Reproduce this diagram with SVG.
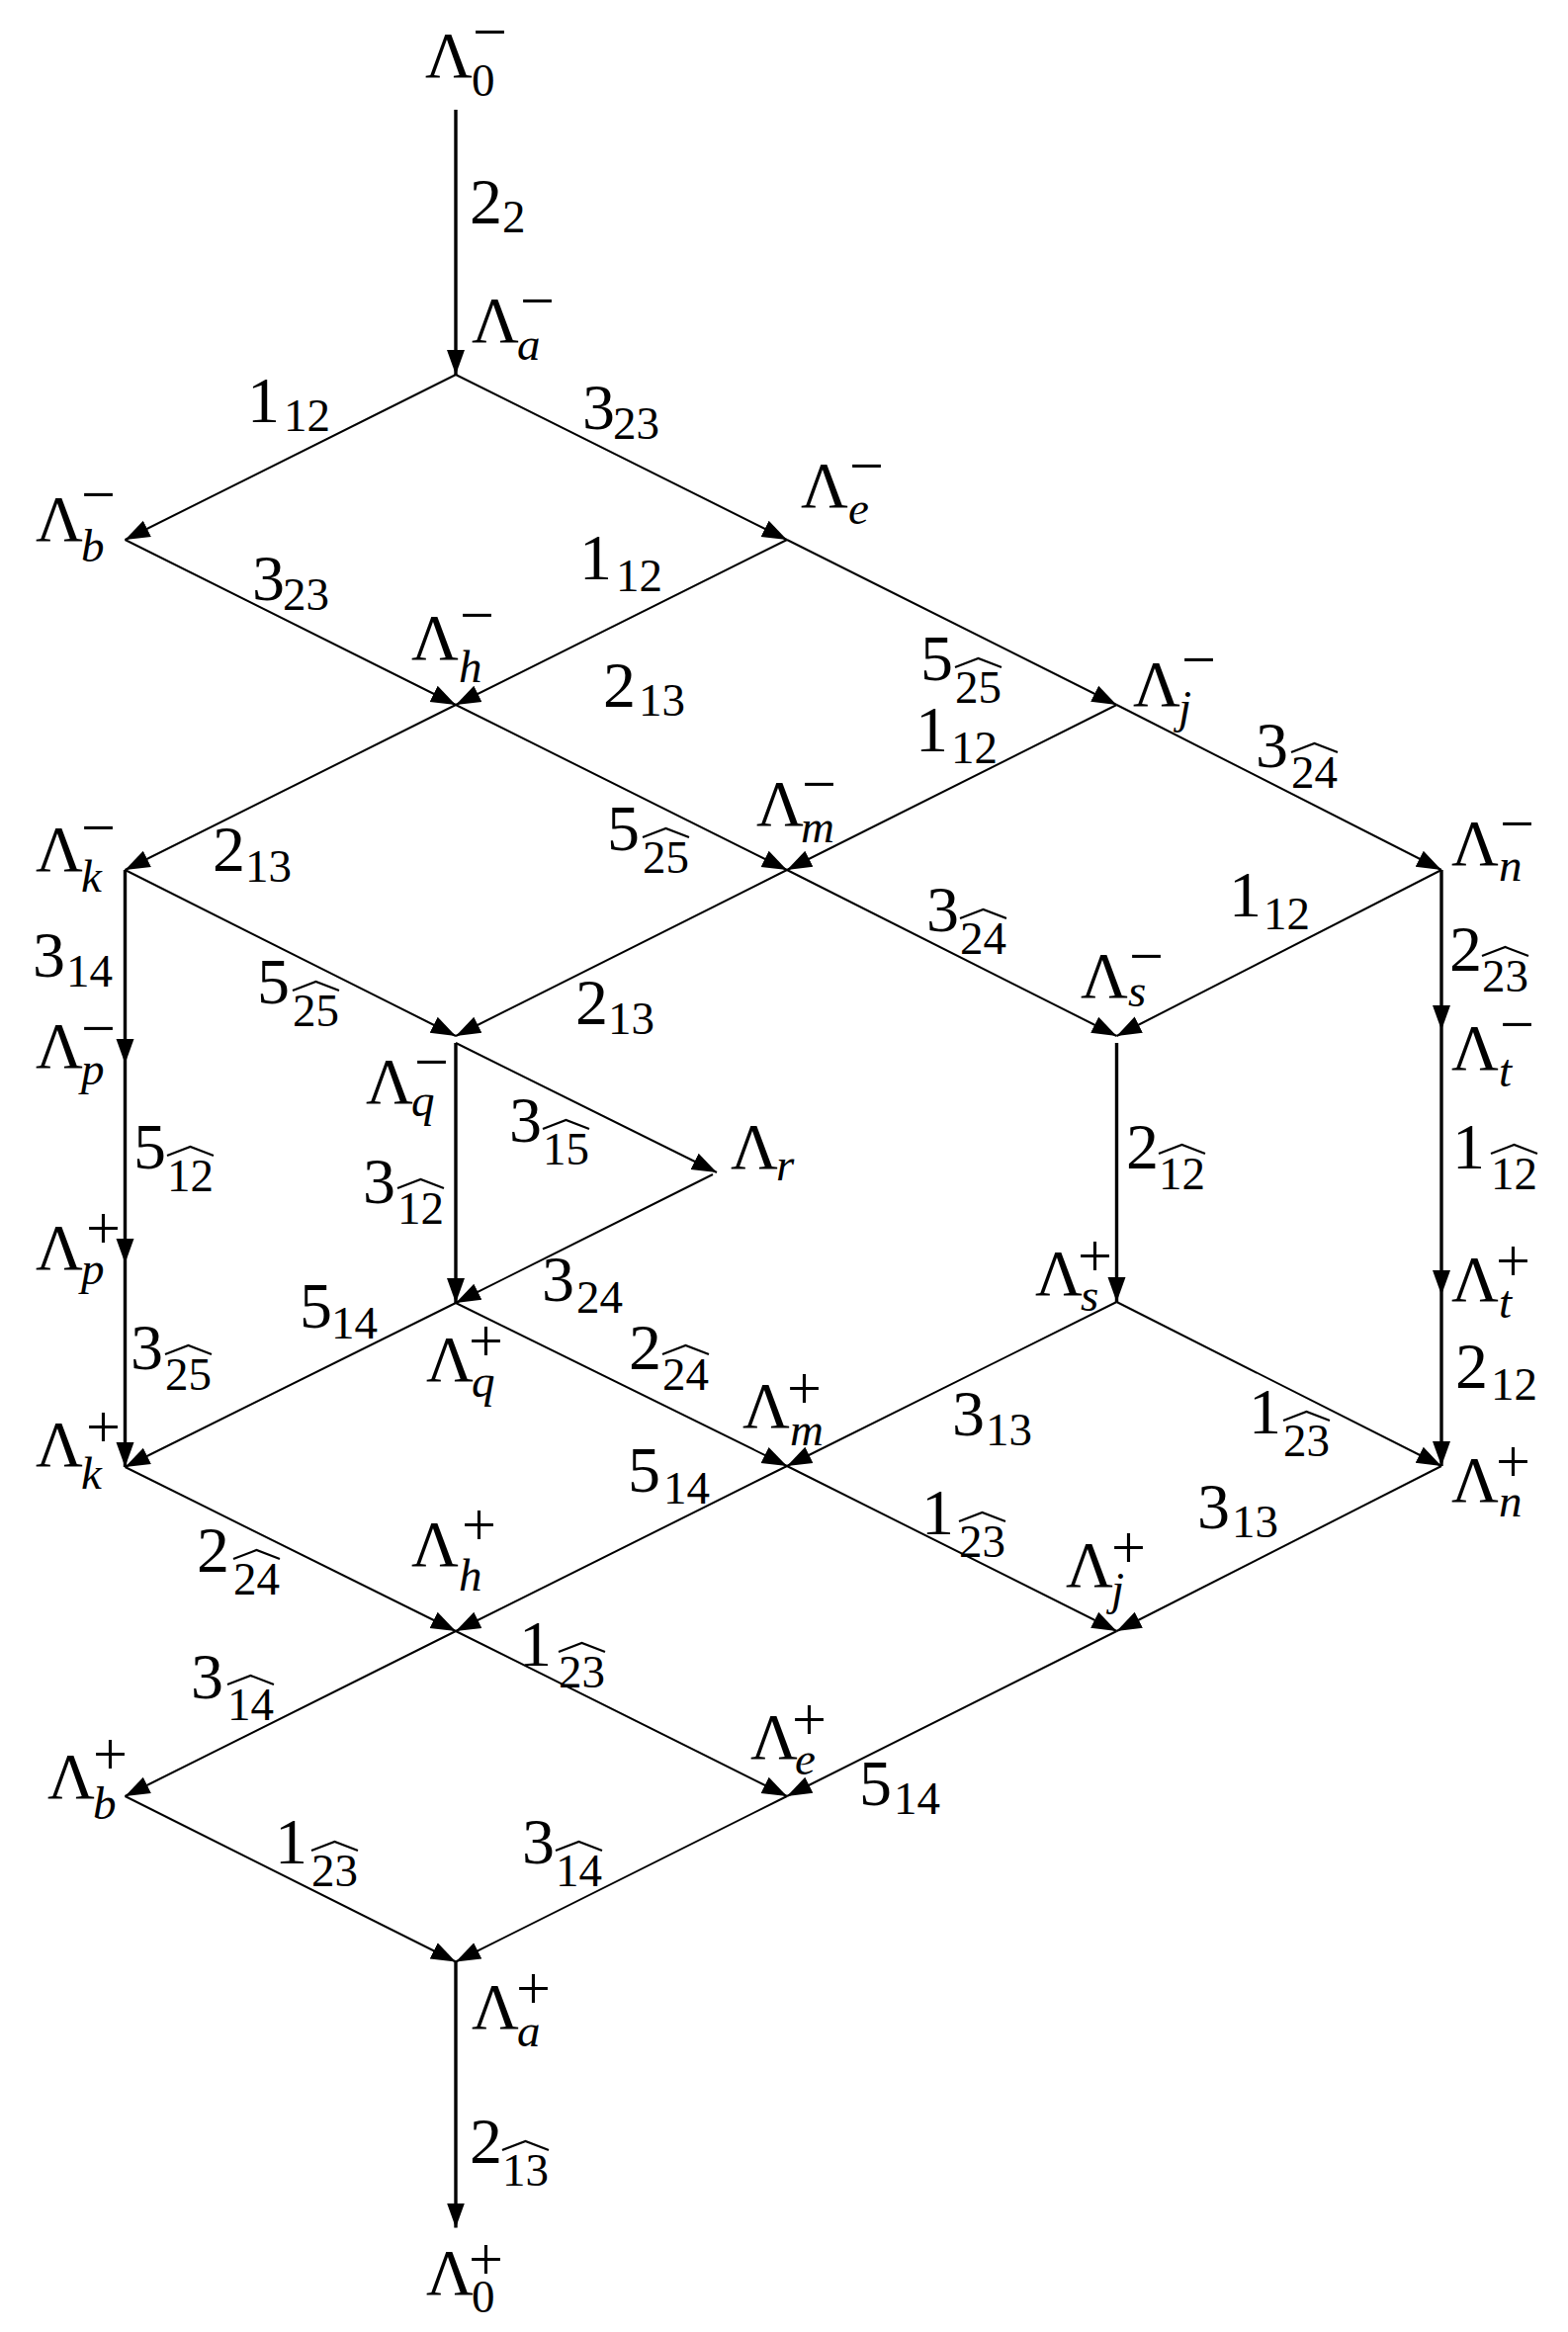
<svg xmlns="http://www.w3.org/2000/svg" width="1586" height="2359" viewBox="0 0 1586 2359" font-family="'Liberation Serif', serif">
<style>
text, tspan{font-family:"Liberation Serif","DejaVu Serif",serif;fill:#000}
.L{font-size:66px}
.s{font-size:47px}
.i{font-style:italic}
.p{font-size:62px}
.c line{stroke:#000;fill:none;marker-end:url(#ah)}
.d{stroke-width:2}
.v{stroke-width:3.4}
.hat{fill:none;stroke:#000;stroke-width:2.2;stroke-linejoin:miter}
</style>
<defs>
<marker id="ah" markerUnits="userSpaceOnUse" markerWidth="26" markerHeight="20" viewBox="0 0 26 20" refX="25" refY="10" orient="auto">
<path d="M0,1 L25,10 L0,19 Z" fill="#000"/>
</marker>
</defs>
<rect width="1586" height="2359" fill="#fff"/>

<g id="connectors" class="c">
<line class="v" x1="461" y1="111" x2="461" y2="379"/>
<line class="d" x1="461" y1="379" x2="126.5" y2="546"/>
<line class="d" x1="461" y1="379" x2="796" y2="546"/>
<line class="d" x1="126.5" y1="546" x2="461" y2="713"/>
<line class="d" x1="796" y1="546" x2="461" y2="713"/>
<line class="d" x1="796" y1="546" x2="1129.5" y2="713"/>
<line class="d" x1="461" y1="713" x2="126.5" y2="880"/>
<line class="d" x1="461" y1="713" x2="796" y2="880"/>
<line class="d" x1="1129.5" y1="713" x2="796" y2="880"/>
<line class="d" x1="1129.5" y1="713" x2="1458" y2="880"/>
<line class="v" x1="126.5" y1="880" x2="126.5" y2="1076"/>
<line class="d" x1="126.5" y1="880" x2="461" y2="1048"/>
<line class="d" x1="796" y1="880" x2="461" y2="1048"/>
<line class="d" x1="796" y1="880" x2="1129.5" y2="1048"/>
<line class="d" x1="1458" y1="880" x2="1129.5" y2="1048"/>
<line class="v" x1="1458" y1="880" x2="1458" y2="1042"/>
<line class="v" x1="126.5" y1="1076" x2="126.5" y2="1278"/>
<line class="d" x1="461" y1="1055" x2="725" y2="1186"/>
<line class="v" x1="461" y1="1055" x2="461" y2="1318"/>
<line class="v" x1="1129.5" y1="1055" x2="1129.5" y2="1317"/>
<line class="v" x1="1458" y1="1042" x2="1458" y2="1310"/>
<line class="v" x1="126.5" y1="1278" x2="126.5" y2="1484"/>
<line class="d" x1="721" y1="1188" x2="461" y2="1318"/>
<line class="d" x1="461" y1="1318" x2="126.5" y2="1484"/>
<line class="d" x1="461" y1="1318" x2="796" y2="1483"/>
<line class="d" x1="1129.5" y1="1317" x2="796" y2="1483"/>
<line class="d" x1="1129.5" y1="1317" x2="1458" y2="1483"/>
<line class="v" x1="1458" y1="1310" x2="1458" y2="1483"/>
<line class="d" x1="126.5" y1="1484" x2="461" y2="1650"/>
<line class="d" x1="796" y1="1483" x2="461" y2="1650"/>
<line class="d" x1="796" y1="1483" x2="1129.5" y2="1650"/>
<line class="d" x1="1458" y1="1483" x2="1129.5" y2="1650"/>
<line class="d" x1="461" y1="1650" x2="126.5" y2="1817"/>
<line class="d" x1="461" y1="1650" x2="796" y2="1817"/>
<line class="d" x1="1129.5" y1="1650" x2="796" y2="1817"/>
<line class="d" x1="126.5" y1="1817" x2="461" y2="1984.5"/>
<line class="d" x1="796" y1="1817" x2="461" y2="1984.5"/>
<line class="v" x1="461" y1="1984.5" x2="461" y2="2253.5"/>
</g>

<g id="edge-labels">
<text class="L" x="475" y="226">2<tspan class="s" x="508" y="235">2</tspan></text>
<text class="L" x="250" y="427">1<tspan class="s" x="287" y="436">12</tspan></text>
<text class="L" x="589" y="434">3<tspan class="s" x="620" y="444">23</tspan></text>
<text class="L" x="255" y="607">3<tspan class="s" x="286" y="617">23</tspan></text>
<text class="L" x="586" y="586">1<tspan class="s" x="623" y="598">12</tspan></text>
<text class="L" x="610" y="715">2<tspan class="s" x="646" y="724">13</tspan></text>
<text class="L" x="931" y="688">5<tspan class="s" x="966" y="711">25</tspan></text><path class="hat" d="M966,675 L989.5,666 L1013,675"/>
<text class="L" x="215" y="881">2<tspan class="s" x="248" y="892">13</tspan></text>
<text class="L" x="614" y="860">5<tspan class="s" x="650" y="883">25</tspan></text><path class="hat" d="M650,847 L673.5,838 L697,847"/>
<text class="L" x="926" y="760">1<tspan class="s" x="962" y="772">12</tspan></text>
<text class="L" x="1270" y="776">3<tspan class="s" x="1306" y="797">24</tspan></text><path class="hat" d="M1306,761 L1329.5,752 L1353,761"/>
<text class="L" x="33" y="988">3<tspan class="s" x="67" y="998">14</tspan></text>
<text class="L" x="260" y="1015">5<tspan class="s" x="296" y="1038">25</tspan></text><path class="hat" d="M296,1002 L319.5,993 L343,1002"/>
<text class="L" x="582" y="1036">2<tspan class="s" x="615" y="1046">13</tspan></text>
<text class="L" x="937" y="942">3<tspan class="s" x="971" y="965">24</tspan></text><path class="hat" d="M971,929 L994.5,920 L1018,929"/>
<text class="L" x="1243" y="927">1<tspan class="s" x="1278" y="940">12</tspan></text>
<text class="L" x="1466" y="982">2<tspan class="s" x="1499" y="1003">23</tspan></text><path class="hat" d="M1499,967 L1522.5,958 L1546,967"/>
<text class="L" x="135" y="1182">5<tspan class="s" x="169" y="1205">12</tspan></text><path class="hat" d="M169,1169 L192.5,1160 L216,1169"/>
<text class="L" x="515" y="1155">3<tspan class="s" x="549" y="1178">15</tspan></text><path class="hat" d="M549,1142 L572.5,1133 L596,1142"/>
<text class="L" x="367" y="1217">3<tspan class="s" x="402" y="1238">12</tspan></text><path class="hat" d="M402,1202 L425.5,1193 L449,1202"/>
<text class="L" x="1139" y="1182">2<tspan class="s" x="1172" y="1203">12</tspan></text><path class="hat" d="M1172,1167 L1195.5,1158 L1219,1167"/>
<text class="L" x="1469" y="1182">1<tspan class="s" x="1508" y="1203">12</tspan></text><path class="hat" d="M1508,1167 L1531.5,1158 L1555,1167"/>
<text class="L" x="132" y="1385">3<tspan class="s" x="167" y="1406">25</tspan></text><path class="hat" d="M167,1370 L190.5,1361 L214,1370"/>
<text class="L" x="548" y="1316">3<tspan class="s" x="583" y="1328">24</tspan></text>
<text class="L" x="303" y="1343">5<tspan class="s" x="335" y="1354">14</tspan></text>
<text class="L" x="636" y="1385">2<tspan class="s" x="670" y="1406">24</tspan></text><path class="hat" d="M670,1370 L693.5,1361 L717,1370"/>
<text class="L" x="963" y="1452">3<tspan class="s" x="997" y="1462">13</tspan></text>
<text class="L" x="1263" y="1450">1<tspan class="s" x="1298" y="1473">23</tspan></text><path class="hat" d="M1298,1437 L1321.5,1428 L1345,1437"/>
<text class="L" x="1472" y="1404">2<tspan class="s" x="1508" y="1416">12</tspan></text>
<text class="L" x="199" y="1590">2<tspan class="s" x="236" y="1613">24</tspan></text><path class="hat" d="M236,1577 L259.5,1568 L283,1577"/>
<text class="L" x="635" y="1509">5<tspan class="s" x="671" y="1521">14</tspan></text>
<text class="L" x="932" y="1552">1<tspan class="s" x="970" y="1575">23</tspan></text><path class="hat" d="M970,1539 L993.5,1530 L1017,1539"/>
<text class="L" x="1211" y="1546">3<tspan class="s" x="1246" y="1555">13</tspan></text>
<text class="L" x="193" y="1718">3<tspan class="s" x="230" y="1740">14</tspan></text><path class="hat" d="M230,1704 L253.5,1695 L277,1704"/>
<text class="L" x="525" y="1685">1<tspan class="s" x="565" y="1707">23</tspan></text><path class="hat" d="M565,1671 L588.5,1662 L612,1671"/>
<text class="L" x="869" y="1826">5<tspan class="s" x="904" y="1835">14</tspan></text>
<text class="L" x="278" y="1885">1<tspan class="s" x="315" y="1908">23</tspan></text><path class="hat" d="M315,1872 L338.5,1863 L362,1872"/>
<text class="L" x="528" y="1885">3<tspan class="s" x="562" y="1908">14</tspan></text><path class="hat" d="M562,1872 L585.5,1863 L609,1872"/>
<text class="L" x="475" y="2188">2<tspan class="s" x="508" y="2211">13</tspan></text><path class="hat" d="M508,2175 L531.5,2166 L555,2175"/>
</g>

<g id="nodes">
<g id="node-0-minus"><text class="L" x="430" y="78">Λ<tspan class="s" x="477" y="97">0</tspan><tspan class="p" x="478" y="53">−</tspan></text></g>
<g id="node-a-minus"><text class="L" x="477" y="346">Λ<tspan class="s i" x="523" y="364">a</tspan><tspan class="p" x="526" y="325">−</tspan></text></g>
<g id="node-b-minus"><text class="L" x="36" y="547">Λ<tspan class="s i" x="82" y="568">b</tspan><tspan class="p" x="82" y="521">−</tspan></text></g>
<g id="node-e-minus"><text class="L" x="810" y="513">Λ<tspan class="s i" x="858" y="530">e</tspan><tspan class="p" x="859" y="492">−</tspan></text></g>
<g id="node-h-minus"><text class="L" x="416" y="667">Λ<tspan class="s i" x="464" y="690">h</tspan><tspan class="p" x="465" y="643">−</tspan></text></g>
<g id="node-j-minus"><text class="L" x="1146" y="714">Λ<tspan class="s i" x="1192" y="731">j</tspan><tspan class="p" x="1195" y="688">−</tspan></text></g>
<g id="node-k-minus"><text class="L" x="36" y="881">Λ<tspan class="s i" x="82" y="902">k</tspan><tspan class="p" x="82" y="858">−</tspan></text></g>
<g id="node-m-minus"><text class="L" x="765" y="835">Λ<tspan class="s i" x="810" y="852">m</tspan><tspan class="p" x="811" y="814">−</tspan></text></g>
<g id="node-n-minus"><text class="L" x="1468" y="875">Λ<tspan class="s i" x="1516" y="891">n</tspan><tspan class="p" x="1517" y="854">−</tspan></text></g>
<g id="node-p-minus"><text class="L" x="36" y="1080">Λ<tspan class="s i" x="82" y="1097">p</tspan><tspan class="p" x="82" y="1061">−</tspan></text></g>
<g id="node-q-minus"><text class="L" x="370" y="1116">Λ<tspan class="s i" x="416" y="1129">q</tspan><tspan class="p" x="419" y="1095">−</tspan></text></g>
<g id="node-s-minus"><text class="L" x="1093" y="1009">Λ<tspan class="s i" x="1141" y="1018">s</tspan><tspan class="p" x="1142" y="988">−</tspan></text></g>
<g id="node-t-minus"><text class="L" x="1468" y="1082">Λ<tspan class="s i" x="1516" y="1099">t</tspan><tspan class="p" x="1517" y="1057">−</tspan></text></g>
<g id="node-r"><text class="L" x="739" y="1182">Λ<tspan class="s i" x="785" y="1194">r</tspan></text></g>
<g id="node-p-plus"><text class="L" x="36" y="1284">Λ<tspan class="s i" x="82" y="1299">p</tspan><tspan class="p" x="87" y="1263">+</tspan></text></g>
<g id="node-q-plus"><text class="L" x="431" y="1397">Λ<tspan class="s i" x="477" y="1413">q</tspan><tspan class="p" x="474" y="1377">+</tspan></text></g>
<g id="node-s-plus"><text class="L" x="1047" y="1310">Λ<tspan class="s i" x="1093" y="1326">s</tspan><tspan class="p" x="1090" y="1291">+</tspan></text></g>
<g id="node-t-plus"><text class="L" x="1468" y="1316">Λ<tspan class="s i" x="1516" y="1333">t</tspan><tspan class="p" x="1513" y="1296">+</tspan></text></g>
<g id="node-k-plus"><text class="L" x="36" y="1483">Λ<tspan class="s i" x="82" y="1506">k</tspan><tspan class="p" x="87" y="1464">+</tspan></text></g>
<g id="node-m-plus"><text class="L" x="751" y="1444">Λ<tspan class="s i" x="799" y="1462">m</tspan><tspan class="p" x="796" y="1425">+</tspan></text></g>
<g id="node-n-plus"><text class="L" x="1468" y="1519">Λ<tspan class="s i" x="1516" y="1534">n</tspan><tspan class="p" x="1513" y="1499">+</tspan></text></g>
<g id="node-h-plus"><text class="L" x="416" y="1584">Λ<tspan class="s i" x="464" y="1609">h</tspan><tspan class="p" x="467" y="1563">+</tspan></text></g>
<g id="node-j-plus"><text class="L" x="1078" y="1605">Λ<tspan class="s i" x="1124" y="1623">j</tspan><tspan class="p" x="1124" y="1586">+</tspan></text></g>
<g id="node-e-plus"><text class="L" x="759" y="1779">Λ<tspan class="s i" x="804" y="1795">e</tspan><tspan class="p" x="801" y="1760">+</tspan></text></g>
<g id="node-b-plus"><text class="L" x="48" y="1819">Λ<tspan class="s i" x="94" y="1840">b</tspan><tspan class="p" x="94" y="1795">+</tspan></text></g>
<g id="node-a-plus"><text class="L" x="477" y="2052">Λ<tspan class="s i" x="523" y="2070">a</tspan><tspan class="p" x="522" y="2032">+</tspan></text></g>
<g id="node-0-plus"><text class="L" x="431" y="2321">Λ<tspan class="s" x="477" y="2339">0</tspan><tspan class="p" x="474" y="2306">+</tspan></text></g>
</g>
</svg>
